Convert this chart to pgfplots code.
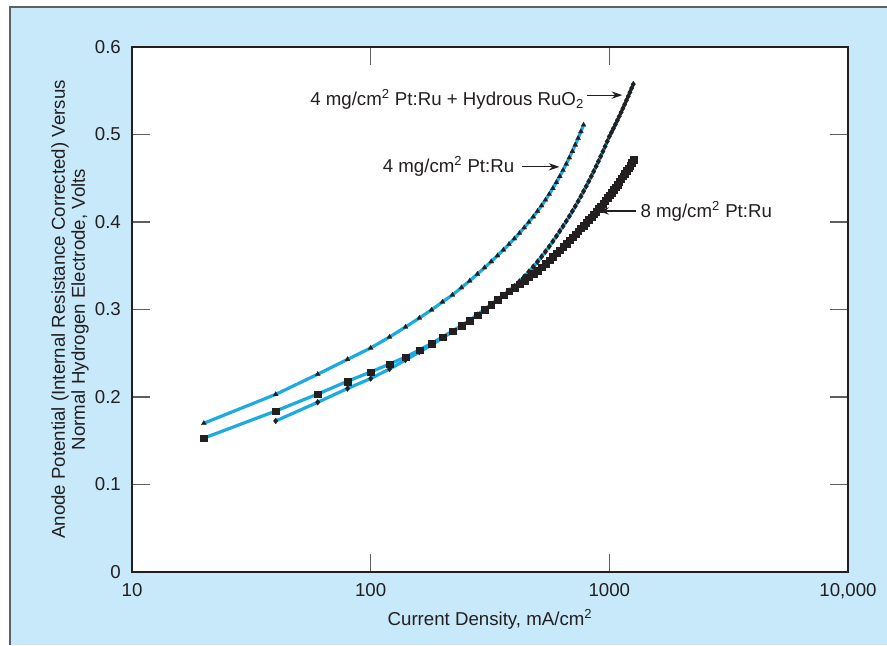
\documentclass[border=0pt]{standalone}
\usepackage{fontspec}
\setmainfont{Liberation Sans}
\usepackage{pgfplots}
\pgfplotsset{compat=1.18}
\usepackage{pgfplotstable}
\usetikzlibrary{arrows.meta}
\definecolor{bgblue}{RGB}{200,233,249}
\definecolor{cblue}{RGB}{28,170,226}
\definecolor{mk}{RGB}{35,31,32}
\definecolor{tickgray}{RGB}{95,95,95}

\pgfplotstableread{
I V
20 0.170
40 0.203
60 0.226
80 0.243
100 0.256
120 0.2686
140 0.2800
160 0.2903
180 0.2996
200 0.3086
220 0.3166
240 0.3250
260 0.3328
280 0.3405
300 0.3478
320 0.3548
340 0.3616
360 0.3682
380 0.3746
400 0.3810
420 0.3872
440 0.3935
460 0.3998
480 0.4060
500 0.4123
520 0.4187
540 0.4252
560 0.4318
580 0.4385
600 0.4453
620 0.4522
640 0.4592
660 0.4663
680 0.4735
700 0.4808
720 0.4882
740 0.4957
760 0.5033
780 0.5110
}\tri

\pgfplotstableread{
I V
20 0.153
40 0.184
60 0.2034
80 0.218
100 0.2286
120 0.2377
140 0.2457
160 0.2537
180 0.2613
200 0.2686
220 0.2754
240 0.2815
260 0.2877
280 0.2937
300 0.2998
320 0.3060
340 0.3115
360 0.3165
380 0.3210
400 0.3252
420 0.3292
440 0.3331
460 0.3369
480 0.3407
500 0.3445
520 0.3485
540 0.3525
560 0.3565
580 0.3604
600 0.3643
620 0.3681
640 0.3719
660 0.3756
680 0.3793
700 0.3829
720 0.3863
740 0.3896
760 0.3929
780 0.3962
800 0.3994
820 0.4026
840 0.4058
860 0.4090
880 0.4121
900 0.4152
920 0.4183
940 0.4214
960 0.4245
980 0.4276
1000 0.4307
1020 0.4338
1040 0.4369
1060 0.4400
1080 0.4431
1100 0.4462
1120 0.4493
1140 0.4524
1160 0.4555
1180 0.4586
1200 0.4617
1220 0.4648
1240 0.4679
1260 0.4710
}\sq

\pgfplotstableread{
I V
40 0.1726
60 0.1940
80 0.2097
100 0.2211
120 0.2320
140 0.2423
160 0.2514
180 0.2596
200 0.2674
220 0.2745
240 0.2812
260 0.2877
280 0.2940
300 0.3002
320 0.3058
340 0.3112
360 0.3165
380 0.3215
400 0.3265
420 0.3320
440 0.3376
460 0.3432
480 0.3489
500 0.3546
520 0.3604
540 0.3662
560 0.3720
580 0.3779
600 0.3838
620 0.3895
640 0.3952
660 0.4009
680 0.4066
700 0.4123
720 0.4180
740 0.4237
760 0.4294
780 0.4351
800 0.4408
820 0.4465
840 0.4522
860 0.4579
880 0.4636
900 0.4693
920 0.4750
940 0.4807
960 0.4864
980 0.4921
1000 0.4977
1020 0.5023
1040 0.5069
1060 0.5115
1080 0.5161
1100 0.5207
1120 0.5253
1140 0.5299
1160 0.5345
1180 0.5391
1200 0.5437
1220 0.5483
1240 0.5529
1260 0.5575
}\dia

\begin{document}
\fontsize{14pt}{16pt}\selectfont
\color{mk}
\begin{tikzpicture}
\useasboundingbox (-99pt,-54.75pt) rectangle (566.25pt,429pt);
\fill[white] (-99pt,-54.75pt) rectangle (566.25pt,429pt);
\fill[bgblue] (-91.5pt,-54.75pt) rectangle (566.25pt,423.75pt);
\draw[tickgray, line width=1.1pt] (-91.5pt,-54.75pt) -- (-91.5pt,423.75pt) -- (566.25pt,423.75pt);
\begin{axis}[
  at={(0,0)}, anchor=south west,
  scale only axis,
  width=537pt, height=393.75pt,
  xmode=log,
  xmin=10, xmax=10000,
  ymin=0, ymax=0.6,
  xtick={10,100,1000,10000},
  xticklabels={10,100,1000,{10,000}},
  ytick={0,0.1,0.2,0.3,0.4,0.5,0.6},
  yticklabels={0,0.1,0.2,0.3,0.4,0.5,0.6},
  xminorticks=false, yminorticks=false,
  tick align=inside,
  major tick length=13.5pt,
  tick style={tickgray, line width=0.8pt},
  axis line style={mk, line width=1.5pt},
  axis background/.style={fill=white},
  xticklabel style={yshift=-3.5pt, font=\fontsize{14pt}{16pt}\selectfont, text=mk},
  yticklabel style={xshift=-3.5pt, font=\fontsize{14pt}{16pt}\selectfont, text=mk},
  xlabel={Current Density, mA/cm\textsuperscript{2}},
  xlabel style={at={(axis description cs:0.5,-0.101)}, anchor=base, font=\fontsize{14pt}{16pt}\selectfont, text=mk},
  ylabel={Anode Potential (Internal Resistance Corrected) Versus\\Normal Hydrogen Electrode, Volts},
  ylabel style={at={(axis description cs:-0.0866,0.5)}, anchor=center, rotate=0, align=center, font=\fontsize{14pt}{15pt}\selectfont, text=mk},
  clip=false,
]
\addplot[cblue, line width=2.4pt, mark=triangle*, mark size=2.2pt,
  mark options={mk, fill=mk, solid, line width=0.1pt}] table[x=I,y=V] {\tri};
\addplot[cblue, line width=2.4pt, mark=square*, mark size=2.5pt,
  mark options={mk, fill=mk, solid, line width=0.1pt}] table[x=I,y=V] {\sq};
\addplot[cblue, line width=2.4pt, mark=diamond*, mark size=2.3pt,
  mark options={mk, fill=mk, solid, line width=0.1pt}] table[x=I,y=V] {\dia};

\node[anchor=base east, inner sep=0pt, text=mk] at (axis cs:785,0.5326) {4 mg/cm\textsuperscript{2} Pt:Ru + Hydrous RuO\textsubscript{2}};
\draw[mk, line width=0.8pt, -{Stealth[length=8pt,width=5.5pt]}] (axis cs:805,0.545) -- (axis cs:1133,0.545);

\node[anchor=base east, inner sep=0pt, text=mk] at (axis cs:400.5,0.457) {4 mg/cm\textsuperscript{2} Pt:Ru};
\draw[mk, line width=0.8pt, -{Stealth[length=8pt,width=5.5pt]}] (axis cs:428.6,0.463) -- (axis cs:618,0.463);

\node[anchor=base west, inner sep=0pt, text=mk] at (axis cs:1348,0.4057) {8 mg/cm\textsuperscript{2} Pt:Ru};
\draw[mk, line width=0.8pt, -{Stealth[length=8pt,width=5.5pt]}] (axis cs:1297,0.4126) -- (axis cs:899,0.4126);
\end{axis}
\end{tikzpicture}
\end{document}
